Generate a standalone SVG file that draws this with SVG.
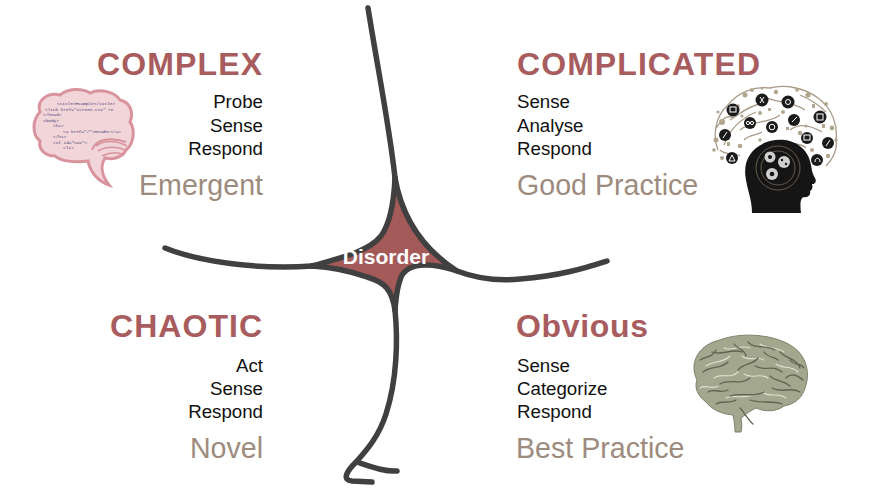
<svg xmlns="http://www.w3.org/2000/svg" width="879" height="490" viewBox="0 0 879 490">
  <style>
    .title { font-family: "Liberation Sans", Arial, sans-serif; font-weight: bold; font-size: 32px; fill: #a85c5e; }
    .body { font-family: "Liberation Sans", Arial, sans-serif; font-size: 18.7px; fill: #111111; }
    .sub { font-family: "Liberation Sans", Arial, sans-serif; font-size: 28.6px; fill: #9d8b7e; }
    .end { text-anchor: end; }
    .line { fill: none; stroke: #404040; stroke-width: 5.5; stroke-linecap: round; stroke-linejoin: round; }
    .code { font-family: "Liberation Mono", monospace; font-size: 4.4px; fill: #4a3f78; }
    .sulcus { fill: none; stroke: #5f6452; stroke-width: 1.3; stroke-linecap: round; }
    .hl { fill: none; stroke: #dfe2d2; stroke-width: 1.1; stroke-linecap: round; }
    .doodle { fill: none; stroke: #a89a86; stroke-width: 1.3; }
    .icon { fill: #1b1b1b; }
    .iconmark { fill: none; stroke: #ffffff; stroke-width: 1; }
  </style>
  <rect width="879" height="490" fill="#ffffff"/>

  <!-- Disorder region -->
  <g id="disorder">
    <path d="M312,266 C340,258 368,252 381,236 C391,222 394,200 395,178 C401,212 418,246 457,271 C430,262 405,262 400,280 C396,292 396,300 395,310 C392,290 385,282 367,277 C350,271 330,267 312,266 Z" fill="#a55a5a"/>
  </g>

  <!-- Framework lines -->
  <g id="connectors">
    <path class="line" d="M368,8 C378,70 390,130 395,178"/>
    <path class="line" d="M165,248 C200,262 260,270 312,266"/>
    <path class="line" d="M312,266 C340,258 368,252 381,236 C391,222 394,200 395,178"/>
    <path class="line" d="M395,178 C401,212 418,246 457,271 C478,279 500,281 520,279 C560,276 585,268 607,261"/>
    <path class="line" d="M457,271 C430,262 405,262 400,280 C396,292 396,300 395,310"/>
    <path class="line" d="M312,266 C330,267 350,271 367,277 C385,282 392,290 395,310"/>
    <path class="line" d="M395,310 C398,340 397,380 386,414 C379,436 367,450 356,462 C346,472 342,480 352,481 L372,482"/>
    <path class="line" d="M357,462 C372,467 385,472 397,471"/>
  </g>

  <g id="disorder-label">
    <text x="386" y="264" text-anchor="middle" font-family="Liberation Sans, Arial, sans-serif" font-weight="bold" font-size="21" fill="#ffffff">Disorder</text>
  </g>

  <!-- COMPLEX quadrant -->
  <g id="complex">
    <g id="complex-brain">
      <path d="M40,112 C36,100 48,92 60,95 C68,88 82,88 90,93 C100,88 115,92 120,100 C130,102 134,112 130,122 C136,130 133,145 126,150 C122,158 112,160 105,158 C100,166 102,176 109,185 C97,181 90,171 88,161 C75,163 60,161 55,156 C45,156 38,149 40,141 C32,135 32,120 40,112 Z" fill="#f1d5d8" stroke="#d8939c" stroke-width="3"/>
      <path d="M92,150 C95,140 110,136 126,142" fill="none" stroke="#d8939c" stroke-width="2"/>
      <path d="M96,146 C104,140 116,140 127,146" fill="none" stroke="#d8939c" stroke-width="1.6"/>
      <path d="M98,151 C106,146 118,146 127,151" fill="none" stroke="#d8939c" stroke-width="1.6"/>
      <path d="M102,156 C110,152 118,152 124,155" fill="none" stroke="#d8939c" stroke-width="1.6"/>
      <text class="code" x="57" y="105">&lt;title&gt;Example&lt;/title&gt;</text>
      <text class="code" x="45" y="110.5">&lt;link href="screen.css" re</text>
      <text class="code" x="43" y="116">&lt;/head&gt;</text>
      <text class="code" x="43" y="121.5">&lt;body&gt;</text>
      <text class="code" x="53" y="127">&lt;h1&gt;</text>
      <text class="code" x="63" y="132.5">&lt;a href="/"&gt;Header&lt;/a&gt;</text>
      <text class="code" x="53" y="138">&lt;/h1&gt;</text>
      <text class="code" x="53" y="143.5">&lt;ul id="nav"&gt;</text>
      <text class="code" x="63" y="149">&lt;li&gt;</text>
    </g>
    <text class="title" x="97" y="75" textLength="165" lengthAdjust="spacing">COMPLEX</text>
    <text class="body end" x="263" y="108">Probe</text>
    <text class="body end" x="263" y="131.5">Sense</text>
    <text class="body end" x="263" y="155">Respond</text>
    <text class="sub end" x="263" y="195">Emergent</text>
  </g>

  <!-- COMPLICATED quadrant -->
  <g id="complicated">
    <g id="complicated-head">
      <!-- doodle cloud -->
      <path class="doodle" d="M718,150 C712,135 716,115 728,105 C738,92 755,86 770,88 C785,84 805,88 818,98 C832,108 838,125 836,140 C838,150 832,160 826,166"/>
      <path class="doodle" d="M724,145 C730,128 742,118 756,112 M760,95 C775,104 790,100 805,110 M740,130 C752,120 768,124 780,115 M790,130 C800,122 812,126 822,132 M730,120 C740,114 748,106 760,104 M716,128 C722,120 726,114 734,118 M800,95 C812,100 820,106 826,112 M744,140 C750,134 756,136 762,132 M786,140 C792,146 800,142 806,148 M720,150 C726,156 734,152 740,156"/>
      <g fill="#b3a690">
        <circle cx="722" cy="122" r="3"/><circle cx="716" cy="140" r="2.5"/><circle cx="745" cy="95" r="2.5"/>
        <circle cx="776" cy="92" r="2.2"/><circle cx="808" cy="95" r="2.6"/><circle cx="832" cy="128" r="2.4"/>
        <circle cx="760" cy="113" r="2"/><circle cx="800" cy="133" r="2.2"/><circle cx="740" cy="146" r="2.3"/>
        <circle cx="828" cy="156" r="2.2"/><circle cx="722" cy="158" r="2"/><circle cx="783" cy="112" r="2"/>
        <circle cx="738" cy="106" r="1.8"/><circle cx="812" cy="150" r="2"/><circle cx="760" cy="140" r="1.8"/>
        <circle cx="752" cy="90" r="2"/><circle cx="797" cy="90" r="1.8"/><circle cx="826" cy="104" r="2"/>
        <circle cx="836" cy="140" r="1.8"/><circle cx="714" cy="150" r="1.8"/><circle cx="742" cy="116" r="1.6"/>
        <circle cx="806" cy="126" r="1.6"/><circle cx="762" cy="88" r="1.5"/><circle cx="718" cy="112" r="1.6"/>
        <rect x="727" y="142" width="3" height="4"/><rect x="812" y="104" width="3" height="4"/><rect x="768" y="108" width="3" height="3"/>
        <rect x="822" y="124" width="3" height="4"/><rect x="786" y="127" width="3" height="3"/>
      </g>
      <g>
        <circle class="icon" cx="733" cy="110" r="6.5"/><circle class="icon" cx="762" cy="100" r="6.5"/>
        <circle class="icon" cx="788" cy="102" r="6.5"/><circle class="icon" cx="750" cy="123" r="6"/>
        <circle class="icon" cx="772" cy="127" r="6"/><circle class="icon" cx="794" cy="120" r="6"/>
        <circle class="icon" cx="820" cy="117" r="6.5"/><circle class="icon" cx="725" cy="135" r="6"/>
        <circle class="icon" cx="807" cy="138" r="6"/><circle class="icon" cx="828" cy="143" r="6"/>
        <circle class="icon" cx="732" cy="158" r="6"/><circle class="icon" cx="817" cy="160" r="6"/>
      </g>
      <g class="iconmark">
        <rect x="730" y="107" width="6" height="5"/><path d="M760,97 L764,103 M764,97 L760,103"/>
        <circle cx="788" cy="102" r="2.5"/><circle cx="748" cy="123" r="1.6"/><circle cx="752" cy="123" r="1.6"/>
        <circle cx="772" cy="127" r="2.8"/><path d="M792,122 L797,117"/><rect x="817" y="114" width="6" height="6"/>
        <path d="M723,138 L727,132"/><rect x="804" y="135" width="6" height="5"/><path d="M826,146 L830,140"/>
        <path d="M729,161 L732,155 L735,161 Z"/><path d="M815,162 C815,157 820,157 820,162"/>
      </g>
      <!-- head silhouette -->
      <path d="M752,213 C752,200 748,192 746,180 C742,160 752,146 770,141 C790,136 808,146 811,165 C812,170 812,173 815,178 C817,182 815,184 812,184 C813,188 812,190 810,191 C811,195 808,198 804,197 C800,198 800,205 801,213 Z" fill="#151515"/>
      <g fill="none" stroke="#8a7a60" stroke-width="0.7">
        <circle cx="778" cy="168" r="22"/>
        <circle cx="778" cy="168" r="17"/>
      </g>
      <g fill="#cfcfcf">
        <circle cx="770" cy="157" r="5.5"/><circle cx="784" cy="162" r="6"/><circle cx="772" cy="174" r="6"/>
      </g>
      <g fill="#151515">
        <circle cx="770" cy="157" r="2"/><circle cx="782" cy="160" r="1.2"/><circle cx="786" cy="164" r="1.2"/><circle cx="772" cy="174" r="2.3"/>
      </g>
    </g>
    <text class="title" x="517" y="75" textLength="243" lengthAdjust="spacing">COMPLICATED</text>
    <text class="body" x="517" y="108">Sense</text>
    <text class="body" x="517" y="131.5">Analyse</text>
    <text class="body" x="517" y="155">Respond</text>
    <text class="sub" x="517" y="195">Good Practice</text>
  </g>

  <!-- CHAOTIC quadrant -->
  <g id="chaotic">
    <text class="title" x="110" y="337" textLength="152" lengthAdjust="spacing">CHAOTIC</text>
    <text class="body end" x="263" y="372">Act</text>
    <text class="body end" x="263" y="395">Sense</text>
    <text class="body end" x="263" y="418">Respond</text>
    <text class="sub end" x="263" y="458">Novel</text>
  </g>

  <!-- Obvious quadrant -->
  <g id="obvious">
    <g id="obvious-brain">
      <path d="M697,380 C688,362 700,344 720,340 C740,332 772,334 790,345 C806,354 811,372 805,388 C802,398 795,404 784,406 C776,412 765,412 756,408 C748,412 744,416 741,418 C742,424 742,428 741,432 L735,432 C735,426 734,420 733,415 C722,414 712,410 706,402 C698,396 694,388 697,380 Z" fill="#a3a78d" stroke="#7d826c" stroke-width="1"/>
      <path class="hl" d="M706,366 C714,360 722,364 730,356 M724,348 C732,352 740,344 750,348 M760,344 C768,350 776,346 784,352 M714,378 C722,372 730,380 738,372 M744,374 C752,380 760,372 768,378 M776,364 C784,370 790,364 798,372 M726,398 C736,394 744,400 754,394 M762,392 C770,398 778,392 786,398 M742,356 C750,362 756,356 764,360 M700,388 C706,384 712,390 718,386"/>
      <path class="sulcus" d="M703,372 C712,365 720,370 728,362 M712,352 C722,356 732,348 742,352 M748,342 C755,350 765,344 775,350 M780,352 C788,360 796,358 800,368 M720,384 C730,378 740,386 750,378 M755,366 C765,372 772,364 782,372 M730,396 C742,392 752,398 764,392 M772,388 C782,394 790,386 800,392 M708,392 C716,388 720,394 728,390 M738,370 C744,362 752,366 758,358 M786,378 C792,372 798,376 803,380 M700,360 C706,356 712,358 716,350 M734,344 C738,350 744,348 746,356 M764,352 C768,358 774,356 778,360 M790,360 C794,366 800,362 804,368"/>
      <path class="sulcus" d="M750,400 C762,404 772,400 782,404 M740,408 C744,412 748,420 753,424 M716,404 C722,400 730,404 736,400 M770,376 C776,382 784,380 790,386"/>
    </g>
    <text class="title" x="516" y="337" textLength="132" lengthAdjust="spacing">Obvious</text>
    <text class="body" x="517" y="372">Sense</text>
    <text class="body" x="517" y="395">Categorize</text>
    <text class="body" x="517" y="418">Respond</text>
    <text class="sub" x="516" y="458">Best Practice</text>
  </g>
</svg>
